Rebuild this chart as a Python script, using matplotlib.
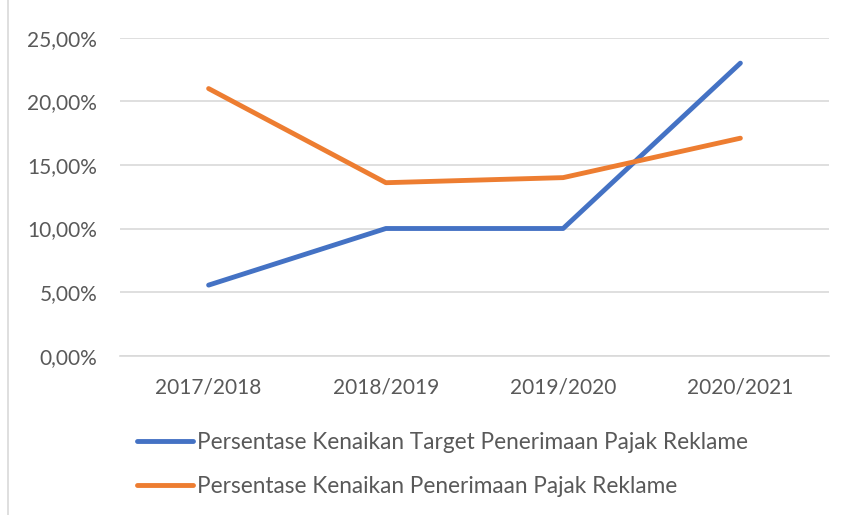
import matplotlib
matplotlib.use("Agg")
import matplotlib.pyplot as plt
from matplotlib.lines import Line2D
from matplotlib.ticker import FuncFormatter

categories = ["2017/2018", "2018/2019", "2019/2020", "2020/2021"]
target_pct = [5.55, 10.0, 10.0, 23.0]
realisasi_pct = [21.0, 13.6, 14.0, 17.1]
series_names = ["Persentase Kenaikan Target Penerimaan Pajak Reklame",
                "Persentase Kenaikan Penerimaan Pajak Reklame"]
yticks = [0, 5, 10, 15, 20, 25]

plt.rcParams['font.family'] = ['Lato', 'DejaVu Sans']
txt = '#595959'

fig = plt.figure(figsize=(8.45, 5.15), dpi=100)
ax = fig.add_axes([120/845, 1-355.7/515, (829-120)/845, (355.7-37.7)/515])

x = list(range(len(categories)))
l1, = ax.plot(x, target_pct, color='#4472C4', lw=3.5, solid_capstyle='round', solid_joinstyle='round')
l2, = ax.plot(x, realisasi_pct, color='#ED7D31', lw=3.5, solid_capstyle='round', solid_joinstyle='round')

ax.set_xlim(-0.5, len(categories) - 0.5)
ax.set_ylim(0, 25)
ax.set_yticks(yticks)
ax.yaxis.set_major_formatter(FuncFormatter(lambda v, p: f"{v:.2f}".replace('.', ',') + "%"))
ax.set_xticks(x)
ax.set_xticklabels(categories)
ax.grid(axis='y', color='#D9D9D9', lw=1.2)
ax.set_axisbelow(True)
for s in ['top', 'right', 'left']:
    ax.spines[s].set_visible(False)
ax.spines['bottom'].set_color('#D9D9D9')
ax.spines['bottom'].set_linewidth(1.2)
ax.tick_params(axis='both', length=0, labelsize=15, colors=txt)
ax.tick_params(axis='y', pad=16.5)
ax.tick_params(axis='x', pad=16)

fig.legend([l1, l2], series_names, loc='upper left', bbox_to_anchor=(128/845, 1-423/515),
           frameon=False, fontsize=16.3, labelcolor=txt, handlelength=2.48, handletextpad=0.18,
           labelspacing=1.02, borderaxespad=0)

fig.add_artist(Line2D([8.5/845, 8.5/845], [0, 1], color='#D9D9D9', lw=1.2, transform=fig.transFigure))

fig.savefig("out.png", dpi=100)
